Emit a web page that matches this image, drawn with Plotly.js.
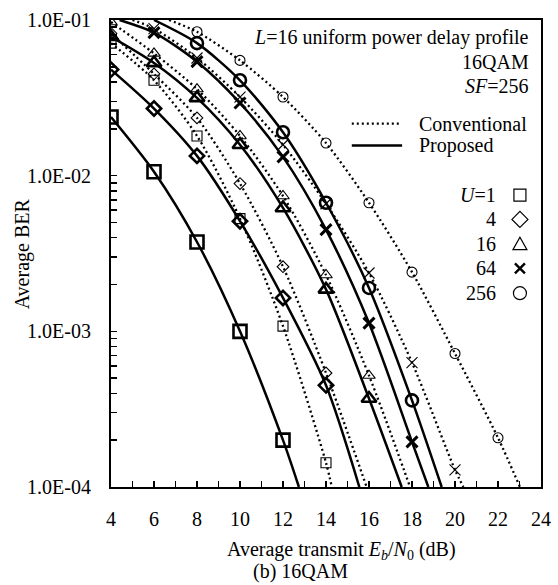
<!DOCTYPE html>
<html>
<head>
<meta charset="utf-8">
<script src="https://cdn.plot.ly/plotly-3.0.1.min.js"></script>
<style>html,body{margin:0;padding:0;background:#fff;}#chart{width:558px;height:585px;}</style>
</head>
<body>
<div id="chart"></div>
<script>
// ---- Data (Eb/N0 in dB, BER) ----
// Proposed (solid, bold markers)
const propU1_x = [4, 6, 8, 10, 12];
const propU1_y = [0.0238, 0.0106, 0.00375, 0.0010, 0.00020];
const propU4_x = [4, 6, 8, 10, 12, 14];
const propU4_y = [0.048, 0.027, 0.0134, 0.0051, 0.00164, 0.00045];
const propU16_x = [4, 6, 8, 10, 12, 14, 16];
const propU16_y = [0.078, 0.053, 0.0316, 0.0158, 0.0062, 0.00186, 0.00037];
const propU64_x = [6, 8, 10, 12, 14, 16, 18];
const propU64_y = [0.083, 0.054, 0.0293, 0.0132, 0.0045, 0.00113, 0.000195];
const propU256_x = [8, 10, 12, 14, 16, 18];
const propU256_y = [0.071, 0.041, 0.019, 0.0067, 0.0019, 0.00036];
// Conventional (dotted, thin markers)
const convU1_x = [4, 6, 8, 10, 12, 14];
const convU1_y = [0.071, 0.041, 0.018, 0.0053, 0.00108, 0.000143];
const convU4_x = [4, 6, 8, 10, 12, 14];
const convU4_y = [0.082, 0.045, 0.0235, 0.0089, 0.0026, 0.00054];
const convU16_x = [4, 6, 8, 10, 12, 14, 16];
const convU16_y = [0.097, 0.061, 0.036, 0.018, 0.0074, 0.0023, 0.00052];
const convU64_x = [6, 8, 10, 12, 14, 16, 18, 20];
const convU64_y = [0.088, 0.057, 0.032, 0.0158, 0.0066, 0.00237, 0.00063, 0.000129];
const convU256_x = [8, 10, 12, 14, 16, 18, 20, 22];
const convU256_y = [0.084, 0.055, 0.032, 0.0162, 0.0067, 0.0024, 0.00072, 0.000207];
// Where the fitted curves leave the frame
const curveStart = { propU64: [4.4, 0.1], convU64: [5.0, 0.1], propU256: [6.0, 0.1], convU256: [6.7, 0.1] };
const curveEnd = { propU1: [12.74, 1e-4], propU4: [15.55, 1e-4], propU16: [17.52, 1e-4], propU64: [18.76, 1e-4], propU256: [19.38, 1e-4],
                   convU1: [14.27, 1e-4], convU4: [15.89, 1e-4], convU16: [17.91, 1e-4], convU64: [20.39, 1e-4], convU256: [23.02, 1e-4] };
// Tick labels
const xTicks = [4, 6, 8, 10, 12, 14, 16, 18, 20, 22, 24];
const yTicks = [1e-4, 1e-3, 1e-2, 1e-1];
const yTickText = ["1.0E-04", "1.0E-03", "1.0E-02", "1.0E-01"];
const legendU = ["<i>U</i>=1", "4", "16", "64", "256"];

const series = [
  {key: 'propU1', x: propU1_x, y: propU1_y, sym: 'square-open', kind: 'prop'},
  {key: 'propU4', x: propU4_x, y: propU4_y, sym: 'diamond-open', kind: 'prop'},
  {key: 'propU16', x: propU16_x, y: propU16_y, sym: 'triangle-up-open', kind: 'prop'},
  {key: 'propU64', x: propU64_x, y: propU64_y, sym: 'x-thin-open', kind: 'prop'},
  {key: 'propU256', x: propU256_x, y: propU256_y, sym: 'circle-open', kind: 'prop'},
  {key: 'convU1', x: convU1_x, y: convU1_y, sym: 'square-open', kind: 'conv'},
  {key: 'convU4', x: convU4_x, y: convU4_y, sym: 'diamond-open', kind: 'conv'},
  {key: 'convU16', x: convU16_x, y: convU16_y, sym: 'triangle-up-open', kind: 'conv'},
  {key: 'convU64', x: convU64_x, y: convU64_y, sym: 'x-thin-open', kind: 'conv'},
  {key: 'convU256', x: convU256_x, y: convU256_y, sym: 'circle-open', kind: 'conv'}
];

const sizeProp = {'square-open': 13, 'diamond-open': 11, 'triangle-up-open': 13, 'x-thin-open': 11, 'circle-open': 12};
const sizeConv = {'square-open': 10, 'diamond-open': 9, 'triangle-up-open': 11, 'x-thin-open': 11, 'circle-open': 10};

const traces = [];
series.forEach(s => {
  const lx = [], ly = [];
  if (curveStart[s.key]) { lx.push(curveStart[s.key][0]); ly.push(curveStart[s.key][1]); }
  s.x.forEach((v, i) => { lx.push(v); ly.push(s.y[i]); });
  if (curveEnd[s.key]) { lx.push(curveEnd[s.key][0]); ly.push(curveEnd[s.key][1]); }
  traces.push({
    x: lx, y: ly, type: 'scatter', mode: 'lines', hoverinfo: 'skip',
    line: s.kind === 'prop' ? {color: '#000', width: 2.5, shape: 'spline', smoothing: 0.8}
                            : {color: '#000', width: 2.3, dash: '2px,3px', shape: 'spline', smoothing: 0.8}
  });
});
series.forEach(s => {
  traces.push({
    x: s.x, y: s.y, type: 'scatter', mode: 'markers', cliponaxis: true,
    marker: {symbol: s.sym, color: '#000',
             size: s.kind === 'prop' ? sizeProp[s.sym] : sizeConv[s.sym],
             line: {color: '#000', width: s.kind === 'prop' ? (s.sym === 'x-thin-open' ? 3 : 2.6) : 1.1}}
  });
});

const minorX = [];
for (let v = 5; v < 24; v += 2) minorX.push(v);
const minorY = [];
[1e-4, 1e-3, 1e-2].forEach(d => { for (let k = 2; k <= 9; k++) minorY.push(d * k); });

const F = 'Liberation Serif, Times New Roman, serif';
const fs = 20;
const ann = [
  {text: '<i>L</i>=16 uniform power delay profile', x: 0.976, y: 0.963},
  {text: '16QAM', x: 0.976, y: 0.910},
  {text: '<i>SF</i>=256', x: 0.976, y: 0.858}
].map(a => ({text: a.text, xref: 'paper', yref: 'paper', x: a.x, y: a.y, xanchor: 'right', yanchor: 'middle', showarrow: false, font: {family: F, size: fs, color: '#000'}}));
const convY = 0.778, propY = 0.731;
ann.push({text: 'Conventional', xref: 'paper', yref: 'paper', x: 0.712, y: convY, xanchor: 'left', yanchor: 'middle', showarrow: false, font: {family: F, size: fs, color: '#000'}});
ann.push({text: 'Proposed', xref: 'paper', yref: 'paper', x: 0.712, y: propY, xanchor: 'left', yanchor: 'middle', showarrow: false, font: {family: F, size: fs, color: '#000'}});
const legY = [0.625, 0.573, 0.520, 0.468, 0.415];
legendU.forEach((t, i) => ann.push({text: t, xref: 'paper', yref: 'paper', x: 0.900, y: legY[i], xanchor: 'right', yanchor: 'middle', showarrow: false, font: {family: F, size: fs, color: '#000'}}));
ann.push({text: 'Average BER', xref: 'paper', yref: 'paper', x: -0.205, y: 0.5, textangle: -90, xanchor: 'center', yanchor: 'middle', showarrow: false, font: {family: F, size: fs, color: '#000'}});
ann.push({text: 'Average transmit <i>E<sub>b</sub></i>/<i>N</i><sub>0</sub> (dB)', xref: 'paper', yref: 'paper', x: 0.537, y: -0.135, xanchor: 'center', yanchor: 'middle', showarrow: false, font: {family: F, size: fs, color: '#000'}});
ann.push({text: '(b) 16QAM', xref: 'paper', yref: 'paper', x: 0.44, y: -0.182, xanchor: 'center', yanchor: 'middle', showarrow: false, font: {family: F, size: fs, color: '#000'}});

const lxA = 0.951;
const shp = [
  {type: 'line', xref: 'paper', yref: 'paper', x0: 0.560, x1: 0.672, y0: convY, y1: convY, line: {color: '#000', width: 2.3, dash: '2px,3px'}},
  {type: 'line', xref: 'paper', yref: 'paper', x0: 0.560, x1: 0.677, y0: propY, y1: propY, line: {color: '#000', width: 2.5}},
  // legend glyphs
  {type: 'rect', xref: 'paper', yref: 'paper', xsizemode: 'pixel', ysizemode: 'pixel', xanchor: lxA, yanchor: legY[0], x0: -6, x1: 6, y0: -6, y1: 6, line: {color: '#000', width: 1.2}},
  {type: 'path', xref: 'paper', yref: 'paper', xsizemode: 'pixel', ysizemode: 'pixel', xanchor: lxA, yanchor: legY[1], path: 'M0,-8 L8,0 L0,8 L-8,0 Z', line: {color: '#000', width: 1.2}},
  {type: 'path', xref: 'paper', yref: 'paper', xsizemode: 'pixel', ysizemode: 'pixel', xanchor: lxA, yanchor: legY[2], path: 'M-7,-5.5 L7,-5.5 L0,7 Z', line: {color: '#000', width: 1.2}},
  {type: 'path', xref: 'paper', yref: 'paper', xsizemode: 'pixel', ysizemode: 'pixel', xanchor: lxA, yanchor: legY[3], path: 'M-5,-5 L5,5 M-5,5 L5,-5', line: {color: '#000', width: 2.4}},
  {type: 'circle', xref: 'paper', yref: 'paper', xsizemode: 'pixel', ysizemode: 'pixel', xanchor: lxA, yanchor: legY[4], x0: -6.5, x1: 6.5, y0: -6.5, y1: 6.5, line: {color: '#000', width: 1.2}}
];

const layout = {
  width: 558, height: 585,
  margin: {l: 111, r: 17, t: 20, b: 98, pad: 0},
  paper_bgcolor: '#fff', plot_bgcolor: '#fff',
  showlegend: false,
  font: {family: F, size: fs, color: '#000'},
  xaxis: {
    range: [4, 24], tickmode: 'array', tickvals: xTicks, ticktext: xTicks.map(String),
    ticks: 'inside', ticklen: 6, tickwidth: 1.5, tickcolor: '#000',
    showline: true, linecolor: '#000', linewidth: 2, mirror: true,
    showgrid: false, zeroline: false, ticklabelstandoff: 13,
    tickfont: {family: F, size: fs, color: '#000'},
    minor: {tickmode: 'array', tickvals: minorX, ticks: 'inside', ticklen: 6, tickwidth: 1.5, tickcolor: '#000', showgrid: false}
  },
  yaxis: {
    type: 'log', range: [-4, -1], tickmode: 'array', tickvals: yTicks, ticktext: yTickText,
    ticks: 'inside', ticklen: 6, tickwidth: 1.5, tickcolor: '#000',
    showline: true, linecolor: '#000', linewidth: 2, mirror: true,
    showgrid: false, zeroline: false, ticklabelstandoff: 14,
    tickfont: {family: F, size: fs, color: '#000'},
    minor: {tickmode: 'array', tickvals: minorY, ticks: 'inside', ticklen: 6, tickwidth: 1.5, tickcolor: '#000', showgrid: false}
  },
  annotations: ann,
  shapes: shp
};

Plotly.newPlot('chart', traces, layout, {staticPlot: true, displayModeBar: false});
</script>
</body>
</html>
